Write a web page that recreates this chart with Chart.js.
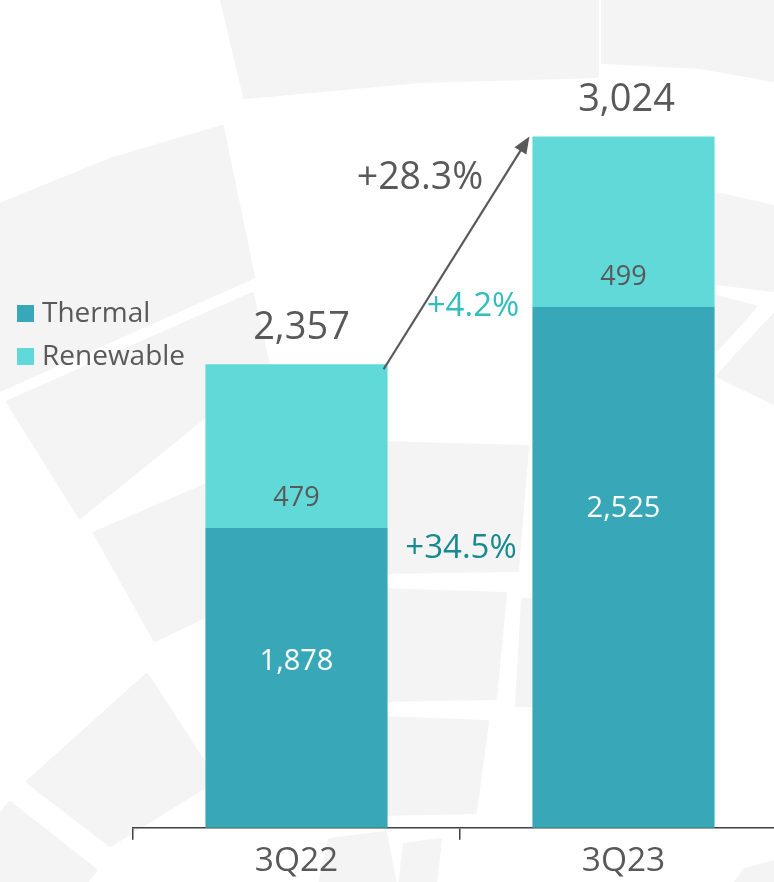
<!DOCTYPE html>
<html>
<head>
<meta charset="utf-8">
<script src="https://cdn.jsdelivr.net/npm/chart.js@4.4.0/dist/chart.umd.min.js"></script>
<style>
  html, body { margin: 0; padding: 0; background: #fff; overflow: hidden; }
  #wrap { width: 774px; height: 882px; overflow: hidden; position: relative; }
  canvas { display: block; }
</style>
</head>
<body>
<div id="wrap"><canvas id="chart" width="800" height="884"></canvas></div>
<script>
const labels    = ['3Q22', '3Q23'];
const thermal   = [1878, 2525];
const renewable = [479, 499];
const totals    = [2357, 3024];
const growthTotal     = '+28.3%';
const growthRenewable = '+4.2%';
const growthThermal   = '+34.5%';

const FONT = "'Open Sans', 'Noto Sans', sans-serif";
const GREY = '#595959';
const THERMAL_COLOR = '#38a8b8';
const RENEW_COLOR = '#60d9d8';

const fmt = v => v.toLocaleString('en-US');

// faint decorative tiles behind the chart
const tiles = [
  [[222,0],[597,0],[597,76],[420,81],[245,97]],
  [[603,0],[774,0],[774,80],[700,67],[603,62]],
  [[0,205],[110,160],[222,127],[253,277],[0,390]],
  [[8,402],[252,294],[268,365],[80,517]],
  [[95,533],[230,475],[260,590],[155,640]],
  [[147,675],[215,780],[110,845],[28,782]],
  [[10,803],[95,870],[85,884],[0,884],[0,815]],
  [[380,443],[527,447],[517,570],[380,572]],
  [[380,590],[505,594],[495,698],[380,700]],
  [[380,718],[487,722],[475,812],[380,814]],
  [[523,600],[560,600],[560,705],[517,705]],
  [[716,194],[774,207],[774,290],[716,283]],
  [[716,297],[755,307],[716,350]],
  [[774,315],[718,376],[774,403]],
  [[745,870],[774,862],[774,884],[735,884]],
  [[330,840],[385,833],[395,884],[320,884]],
  [[405,845],[440,840],[435,884],[400,884]]
];

function drawBackground(ctx) {
  ctx.save();
  ctx.fillStyle = '#ffffff';
  ctx.fillRect(0, 0, 800, 884);
  ctx.fillStyle = '#f4f4f4';
  ctx.strokeStyle = '#f4f4f4';
  ctx.lineWidth = 4;
  ctx.lineJoin = 'round';
  tiles.forEach(t => {
    ctx.beginPath();
    t.forEach(([x, y], i) => i ? ctx.lineTo(x, y) : ctx.moveTo(x, y));
    ctx.closePath();
    ctx.fill();
    ctx.stroke();
  });
  ctx.restore();
}

const decor = {
  id: 'decor',
  beforeDraw(chart) {
    drawBackground(chart.ctx);
  },
  afterDatasetsDraw(chart) {
    const ctx = chart.ctx;
    const bottom = chart.chartArea.bottom;
    const th = chart.getDatasetMeta(0).data;
    const rn = chart.getDatasetMeta(1).data;
    ctx.save();
    ctx.textAlign = 'center';
    ctx.textBaseline = 'middle';

    // segment values
    const thermalFrac = [0.447, 0.388];
    th.forEach((b, i) => {
      ctx.fillStyle = '#ffffff';
      ctx.font = '29px ' + FONT;
      ctx.fillText(fmt(thermal[i]), b.x, b.y + (bottom - b.y) * thermalFrac[i]);
    });
    rn.forEach((b, i) => {
      ctx.fillStyle = GREY;
      ctx.font = '27px ' + FONT;
      ctx.fillText(fmt(renewable[i]), b.x, b.base - 30);
      ctx.font = '38px ' + FONT;
      ctx.fillText(fmt(totals[i]), b.x + (i === 0 ? 5 : 3), b.y - 36);
    });

    // arrow between totals
    const x0 = rn[0].x + rn[0].width / 2 - 4, y0 = rn[0].y + 5;
    const x1 = rn[1].x - rn[1].width / 2 - 3, y1 = rn[1].y;
    const ang = Math.atan2(y1 - y0, x1 - x0);
    ctx.strokeStyle = GREY;
    ctx.fillStyle = GREY;
    ctx.lineWidth = 2.2;
    ctx.beginPath();
    ctx.moveTo(x0, y0);
    ctx.lineTo(x1 - 10 * Math.cos(ang), y1 - 10 * Math.sin(ang));
    ctx.stroke();
    ctx.beginPath();
    ctx.moveTo(x1, y1);
    ctx.lineTo(x1 - 17 * Math.cos(ang) + 7 * Math.sin(ang), y1 - 17 * Math.sin(ang) - 7 * Math.cos(ang));
    ctx.lineTo(x1 - 17 * Math.cos(ang) - 7 * Math.sin(ang), y1 - 17 * Math.sin(ang) + 7 * Math.cos(ang));
    ctx.closePath();
    ctx.fill();

    // growth labels
    const gap = (rn[0].x + rn[1].x) / 2;
    ctx.font = '37.5px ' + FONT;
    ctx.fillStyle = GREY;
    ctx.fillText(growthTotal, gap - 40, rn[1].y + 42);
    ctx.font = '33px ' + FONT;
    ctx.fillStyle = '#33bdbd';
    ctx.fillText(growthRenewable, gap + 13, th[1].y);
    ctx.font = '33px ' + FONT;
    ctx.fillStyle = '#168a90';
    ctx.fillText(growthThermal, gap + 1, th[0].y + 21);

    // legend
    ctx.textAlign = 'left';
    ctx.font = '28px ' + FONT;
    [['Thermal', THERMAL_COLOR, 313], ['Renewable', RENEW_COLOR, 356]].forEach(([t, c, y]) => {
      ctx.fillStyle = c;
      ctx.fillRect(17, y - 8, 17, 17);
      ctx.fillStyle = GREY;
      ctx.fillText(t, 42, y + 1);
    });
    ctx.restore();
  }
};

new Chart(document.getElementById('chart'), {
  type: 'bar',
  data: {
    labels: labels,
    datasets: [
      { label: 'Thermal', data: thermal, backgroundColor: THERMAL_COLOR, clip: 0,
        barPercentage: 0.557, categoryPercentage: 1 },
      { label: 'Renewable', data: renewable, backgroundColor: RENEW_COLOR, clip: 0,
        barPercentage: 0.557, categoryPercentage: 1 }
    ]
  },
  options: {
    responsive: false,
    animation: false,
    layout: { padding: { left: 133, right: 13, top: 8, bottom: 0 } },
    plugins: { legend: { display: false }, tooltip: { enabled: false } },
    scales: {
      x: {
        stacked: true,
        grid: { drawOnChartArea: false, drawTicks: true, tickLength: 12, color: '#404040', lineWidth: 1.5 },
        border: { display: true, color: '#404040', width: 1.5 },
        ticks: { color: GREY, font: { family: FONT, size: 33.5 }, padding: 2 }
      },
      y: { stacked: true, display: false, min: 1000, max: 3400 }
    }
  },
  plugins: [decor]
});
</script>
</body>
</html>
